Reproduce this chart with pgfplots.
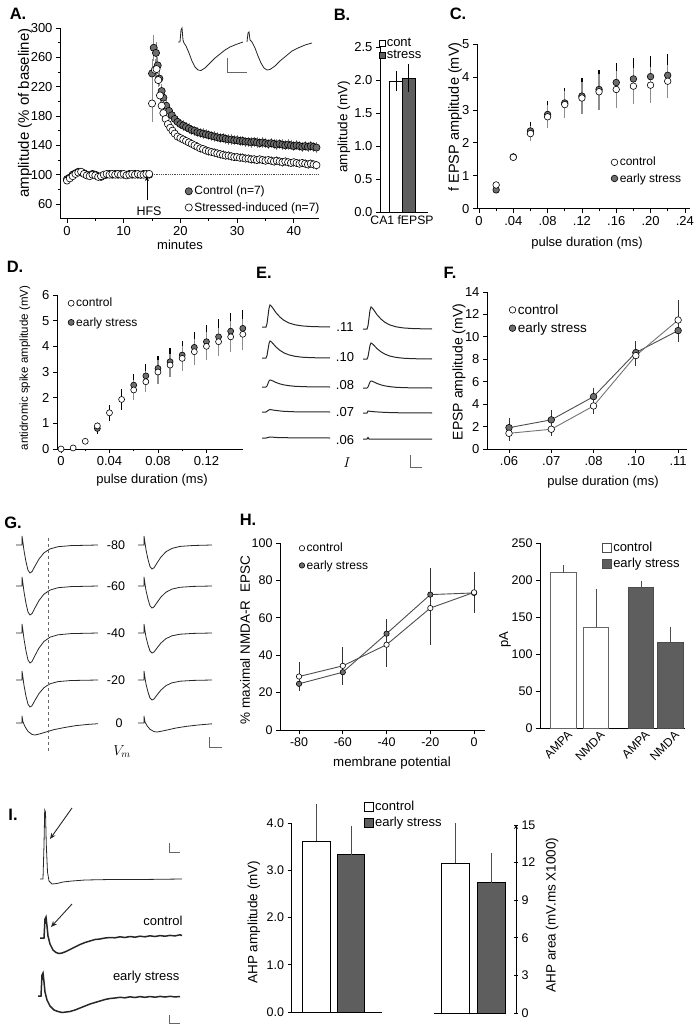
\documentclass[border=0pt]{standalone}
\usepackage{fontspec}
\setmainfont{Liberation Sans}
\usepackage{pgfplots}
\usepackage{pgfplotstable}
\pgfplotsset{compat=1.18}
\usetikzlibrary{arrows.meta}
\definecolor{fillgray}{HTML}{6E6E6E}
\definecolor{bargray}{HTML}{5E5E5E}
\definecolor{errgray}{HTML}{8C8C8C}
\definecolor{linegray}{HTML}{4D4D4D}
\pgfplotsset{
 panel/.style={scale only axis, anchor=south west, axis lines=left, axis line style={-, line width=0.8pt},
   tick align=outside, major tick length=4pt, minor tick length=2.5pt, tick style={line width=0.7pt, black},
   /pgf/number format/assume math mode=true,
   tick label style={font=\fontsize{13}{14}\selectfont},
   enlargelimits=false, clip=false, legend cell align=left,
   legend style={draw=none, fill=none, inner sep=0pt, row sep=2pt, font=\fontsize{12}{13}\selectfont},
   legend image code/.code={\draw[mark repeat=2,mark phase=2,##1] plot coordinates {(0pt,0pt) (4pt,0pt) (8pt,0pt)};}},
 omk/.style={mark=*, mark size=#1, mark options={fill=white, draw=black, line width=0.6pt, solid}},
 fmk/.style={mark=*, mark size=#1, mark options={fill=fillgray, draw=black, line width=0.6pt, solid}},
 ebars/.style={only marks, mark=none, forget plot, /pgfplots/error bars/y dir=both, /pgfplots/error bars/y explicit, /pgfplots/error bars/error mark=none, /pgfplots/error bars/error bar style={#1}},
 eplus/.style={/pgfplots/error bars/y dir=plus, /pgfplots/error bars/y explicit, /pgfplots/error bars/error mark=none, /pgfplots/error bars/error bar style={#1}},
 tr/.style={black!85, line width=0.8pt, mark=none, forget plot},
}
\pgfplotstableread{
x y e
0 94 3
0.5 96 3
1 100 3
1.5 102 3
2 104 3
2.5 103 3
3 102 3
3.5 100 3
4 99 3
4.5 101 3
5 100 3
5.5 98 3
6 97 3
6.5 99 3
7 100 3
7.5 101 3
8 100 3
8.5 101 3
9 100 3
9.5 101 3
10 100 3
10.5 100 3
11 101 3
11.5 100 3
12 101 3
12.5 100 3
13 100 3
13.5 101 3
14 100 3
14.5 100 3
15.0 238 20
15.3 273 18
15.7 266 15
16.0 249 12
16.3 231 10
16.7 214 9
17.0 205 8
17.5 194 8
18.0 187 7
18.5 181 7
19.0 176 7
19.5 172 7
20.0 169 7
20.5 167 7
21.0 165 7
21.5 163 7
22.0 161 7
22.5 160 7
23.0 158 7
23.5 157 7
24.0 156 7
24.5 155 7
25.0 154 7
25.5 153 7
26.0 152 7
26.5 151 7
27.0 150 7
27.5 150 7
28.0 149 7
28.5 148 7
29.0 148 7
29.5 147 7
30.0 147 7
30.5 146 7
31.0 146 7
31.5 145 7
32.0 145 7
32.5 144 7
33.0 145 7
33.5 144 7
34.0 143 7
34.5 144 7
35.0 143 7
35.5 142 7
36.0 143 7
36.5 142 7
37.0 141 7
37.5 142 7
38.0 141 7
38.5 140 7
39.0 141 7
39.5 140 7
40.0 139 7
40.5 140 7
41.0 139 7
41.5 138 7
42.0 139 7
42.5 138 7
43.0 139 7
43.5 138 7
44.0 137 7
}\Actrl
\pgfplotstableread{
x y e
0 92 3
0.5 95 3
1 98 3
1.5 101 3
2 103 3
2.5 104 3
3 101 3
3.5 99 3
4 98 3
4.5 100 3
5 99 3
5.5 97 3
6 98 3
6.5 100 3
7 101 3
7.5 100 3
8 101 3
8.5 100 3
9 101 3
9.5 100 3
10 101 3
10.5 99 3
11 100 3
11.5 101 3
12 100 3
12.5 101 3
13 100 3
13.5 100 3
14 101 3
14.5 101 3
15.0 197 25
15.5 243 15
15.8 244 12
16.1 229 10
16.4 208 9
16.7 194 8
17.0 184 7
17.4 176 6
17.8 169 6
18.2 164 6
18.6 160 6
19.0 156 6
19.5 152 6
20.0 150 6
20.5 148 6
21.0 146 6
21.5 144 6
22.0 142 6
22.5 140 6
23.0 138 6
23.5 136 6
24.0 135 6
24.5 133 6
25.0 132 6
25.5 131 6
26.0 130 6
26.5 129 6
27.0 128 6
27.5 127 6
28.0 126 6
28.5 126 6
29.0 125 6
29.5 124 6
30.0 124 6
30.5 123 6
31.0 123 6
31.5 122 6
32.0 122 6
32.5 121 6
33.0 121 6
33.5 120 6
34.0 121 6
34.5 120 6
35.0 119 6
35.5 120 6
36.0 119 6
36.5 118 6
37.0 119 6
37.5 118 6
38.0 117 6
38.5 118 6
39.0 117 6
39.5 116 6
40.0 117 6
40.5 116 6
41.0 115 6
41.5 116 6
42.0 115 6
42.5 114 6
43.0 115 6
43.5 114 6
44.0 113 6
}\Astr
\begin{document}
\begin{tikzpicture}[x=1pt,y=1pt]
\useasboundingbox (0pt,0pt) rectangle (699pt,1032pt);

% ---------------- A
\begin{axis}[panel, at={(60pt,813.3pt)}, width=259.3pt, height=190.7pt, xmin=-1.23, xmax=44.5, ymin=40, ymax=300,
  xtick={0,10,20,30,40}, ytick={60,100,140,180,220,260,300}, minor x tick num=1, minor y tick num=1,
  legend style={at={(0.482,0.182)}, anchor=north west}]
\addplot[densely dotted, black!70, line width=0.8pt, forget plot] coordinates {(15,100) (44.5,100)};
\addplot[ebars={errgray, line width=0.6pt}] table[x=x,y=y,y error=e] {\Actrl};
\addplot[ebars={errgray, line width=0.6pt}] table[x=x,y=y,y error=e] {\Astr};
\addplot[only marks, fmk=3.6pt, forget plot] table[x=x,y=y] {\Actrl};
\addplot[only marks, omk=3.6pt, forget plot] table[x=x,y=y] {\Astr};
\addplot[-{Stealth[length=5pt,width=4pt]}, line width=0.8pt, forget plot] coordinates {(14.1,65) (14.1,98)};
\addlegendimage{only marks, fmk=3.6pt}\addlegendentry{Control (n=7)}
\addlegendimage{only marks, omk=3.6pt}\addlegendentry{Stressed-induced (n=7)}
\end{axis}

% ---------------- B
\begin{axis}[panel, at={(380pt,820pt)}, width=48pt, height=165pt, xmin=0, xmax=48, ymin=0, ymax=2.5,
  xtick=\empty, ytick={0,0.5,1,1.5,2,2.5}, yticklabel style={/pgf/number format/.cd, fixed, fixed zerofill, precision=1},
  legend style={at={(-0.03,1.067)}, anchor=north west, row sep=-2pt, font=\fontsize{13}{13}\selectfont}]
\addplot[ybar, bar width=12.5pt, bar shift=0pt, fill=white, draw=black, line width=0.6pt, forget plot,
  /pgfplots/error bars/y dir=both, /pgfplots/error bars/y explicit, /pgfplots/error bars/error mark=none, /pgfplots/error bars/error bar style={black, line width=0.7pt}]
  coordinates {(16,1.98) +- (0,0.15)};
\addplot[ybar, bar width=13pt, bar shift=0pt, fill=bargray, draw=black, line width=0.6pt, forget plot,
  /pgfplots/error bars/y dir=both, /pgfplots/error bars/y explicit, /pgfplots/error bars/error mark=none, /pgfplots/error bars/error bar style={black, line width=0.7pt}]
  coordinates {(28.5,2.03) +- (0,0.21)};
\addlegendimage{only marks, mark=square, mark size=3pt, mark options={draw=black, fill=white}}\addlegendentry{cont}
\addlegendimage{only marks, mark=square*, mark size=3pt, mark options={draw=black, fill=bargray}}\addlegendentry{stress}
\end{axis}

% ---------------- C
\begin{axis}[panel, at={(477pt,823.3pt)}, width=213pt, height=164.7pt, xmin=-0.0023, xmax=0.246, ymin=0, ymax=5,
  xtick={0,0.04,0.08,0.12,0.16,0.2,0.24}, xticklabels={0,.04,.08,.12,.16,.20,.24}, minor x tick num=1, ytick={0,1,2,3,4,5},
  legend style={at={(0.629,0.326)}, anchor=north west, row sep=2pt}]
\addplot[ebars={black, line width=1.2pt}] coordinates {(0.02,0.57) +- (0,0.05) (0.04,1.57) +- (0,0.12) (0.06,2.36) +- (0,0.28) (0.08,2.86) +- (0,0.4) (0.10,3.21) +- (0,0.45) (0.12,3.42) +- (0,0.55) (0.14,3.62) +- (0,0.6) (0.16,3.83) +- (0,0.6) (0.18,3.94) +- (0,0.62) (0.20,4.01) +- (0,0.62) (0.22,4.05) +- (0,0.65)};
\addplot[ebars={errgray, line width=1.2pt}] coordinates {(0.02,0.72) +- (0,0.05) (0.04,1.56) +- (0,0.1) (0.06,2.28) +- (0,0.22) (0.08,2.79) +- (0,0.35) (0.10,3.16) +- (0,0.42) (0.12,3.36) +- (0,0.5) (0.14,3.55) +- (0,0.55) (0.16,3.62) +- (0,0.55) (0.18,3.72) +- (0,0.55) (0.20,3.75) +- (0,0.55) (0.22,3.87) +- (0,0.5)};
\addplot[only marks, fmk=3.3pt, forget plot] coordinates {(0.02,0.57) (0.04,1.57) (0.06,2.36) (0.08,2.86) (0.10,3.21) (0.12,3.42) (0.14,3.62) (0.16,3.83) (0.18,3.94) (0.20,4.01) (0.22,4.05)};
\addplot[only marks, omk=3.3pt, forget plot] coordinates {(0.02,0.72) (0.04,1.56) (0.06,2.28) (0.08,2.79) (0.10,3.16) (0.12,3.36) (0.14,3.55) (0.16,3.62) (0.18,3.72) (0.20,3.75) (0.22,3.87)};
\addlegendimage{only marks, omk=3.3pt}\addlegendentry{control}
\addlegendimage{only marks, fmk=3.3pt}\addlegendentry{early stress}
\end{axis}

% ---------------- D
\begin{axis}[panel, at={(57pt,583pt)}, width=185.8pt, height=154pt, xmin=-0.0033, xmax=0.15, ymin=0, ymax=6,
  xtick={0,0.04,0.08,0.12}, xticklabels={0,0.04,0.08,0.12}, minor x tick num=1, ytick={0,1,2,3,4,5,6},
  legend style={at={(0.059,0.994)}, anchor=north west, row sep=5pt}]
\addplot[ebars={black, line width=1.2pt}] coordinates {(0.03,0.8) +- (0,0.2) (0.04,1.41) +- (0,0.3) (0.05,1.93) +- (0,0.4) (0.06,2.49) +- (0,0.45) (0.07,2.85) +- (0,0.45) (0.08,3.14) +- (0,0.5) (0.09,3.4) +- (0,0.55) (0.10,3.66) +- (0,0.55) (0.11,3.96) +- (0,0.6) (0.12,4.18) +- (0,0.65) (0.13,4.37) +- (0,0.7) (0.14,4.59) +- (0,0.7) (0.15,4.7) +- (0,0.7)};
\addplot[ebars={errgray, line width=1.2pt}] coordinates {(0.02,0.3) +- (0,0.05) (0.03,0.9) +- (0,0.15) (0.06,2.3) +- (0,0.4) (0.07,2.62) +- (0,0.4) (0.08,3.0) +- (0,0.45) (0.09,3.27) +- (0,0.45) (0.10,3.53) +- (0,0.5) (0.11,3.79) +- (0,0.5) (0.12,4.0) +- (0,0.55) (0.13,4.18) +- (0,0.55) (0.14,4.37) +- (0,0.6) (0.15,4.47) +- (0,0.6)};
\addplot[only marks, fmk=3pt, forget plot] coordinates {(0.03,0.8) (0.06,2.49) (0.07,2.85) (0.08,3.14) (0.09,3.4) (0.10,3.66) (0.11,3.96) (0.12,4.18) (0.13,4.37) (0.14,4.59) (0.15,4.7)};
\addplot[only marks, omk=3pt, forget plot] coordinates {(0,0) (0.01,0.04) (0.02,0.3) (0.03,0.9) (0.04,1.41) (0.05,1.93) (0.06,2.3) (0.07,2.62) (0.08,3.0) (0.09,3.27) (0.10,3.53) (0.11,3.79) (0.12,4.0) (0.13,4.18) (0.14,4.37) (0.15,4.47)};
\addlegendimage{only marks, omk=3pt}\addlegendentry{control}
\addlegendimage{only marks, fmk=3pt}\addlegendentry{early stress}
\end{axis}

% ---------------- F
\begin{axis}[panel, at={(487pt,583pt)}, width=200pt, height=157pt, xmin=-0.52, xmax=4.21, ymin=0, ymax=14,
  xtick={0,1,2,3,4}, xticklabels={.06,.07,.08,.10,.11}, ytick={0,2,4,6,8,10,12,14},
  legend style={at={(0.11,0.936)}, anchor=north west, row sep=3pt, font=\fontsize{13.5}{14}\selectfont}]
\addplot[linegray, line width=0.9pt, fmk=3.3pt, forget plot, /pgfplots/error bars/y dir=both, /pgfplots/error bars/y explicit, /pgfplots/error bars/error mark=none, /pgfplots/error bars/error bar style={black!80, line width=0.7pt}]
  coordinates {(0,1.9) +- (0,0.9) (1,2.6) +- (0,0.9) (2,4.67) +- (0,0.8) (3,8.6) +- (0,1.0) (4,10.56) +- (0,1.0)};
\addplot[black!55, line width=0.9pt, omk=3.3pt, forget plot, /pgfplots/error bars/y dir=both, /pgfplots/error bars/y explicit, /pgfplots/error bars/error mark=none, /pgfplots/error bars/error bar style={black!80, line width=0.7pt}]
  coordinates {(0,1.4) +- (0,0.7) (1,1.76) +- (0,0.6) (2,3.84) +- (0,0.7) (3,8.33) +- (0,0.9) (4,11.5) +- (0,1.8)};
\addlegendimage{only marks, omk=3.3pt}\addlegendentry{control}
\addlegendimage{only marks, fmk=3.3pt}\addlegendentry{early stress}
\end{axis}

% ---------------- H left
\begin{axis}[panel, at={(280pt,302pt)}, width=205pt, height=187pt, xmin=-88.7, xmax=5, ymin=0, ymax=100,
  xtick={-80,-60,-40,-20,0}, xticklabels={-80,-60,-40,-20,0}, ytick={0,20,40,60,80,100},
  tick label style={font=\fontsize{12.5}{13}\selectfont},
  legend style={at={(0.093,1.011)}, anchor=north west, row sep=3pt}]
\addplot[linegray, line width=0.9pt, fmk=2.7pt, forget plot, /pgfplots/error bars/y dir=both, /pgfplots/error bars/y explicit, /pgfplots/error bars/error mark=none, /pgfplots/error bars/error bar style={black!80, line width=0.7pt}]
  coordinates {(-80,24.7) +- (0,3) (-60,30.9) +- (0,4) (-40,51.5) +- (0,8) (-20,72.4) +- (0,14) (0,73.3) +- (0,3)};
\addplot[linegray, line width=0.9pt, omk=2.7pt, forget plot, /pgfplots/error bars/y dir=both, /pgfplots/error bars/y explicit, /pgfplots/error bars/error mark=none, /pgfplots/error bars/error bar style={black!80, line width=0.7pt}]
  coordinates {(-80,28.6) +- (0,8) (-60,34.3) +- (0,10) (-40,45.6) +- (0,12) (-20,65.2) +- (0,19.6) (0,73.6) +- (0,11)};
\addlegendimage{only marks, omk=2.7pt}\addlegendentry{control}
\addlegendimage{only marks, fmk=2.7pt}\addlegendentry{early stress}
\end{axis}

% ---------------- H right
\begin{axis}[panel, at={(540pt,304pt)}, width=145pt, height=185pt, xmin=0, xmax=145, ymin=0, ymax=250,
  xtick=\empty, ytick={0,50,100,150,200,250}, tick label style={font=\fontsize{12.5}{13}\selectfont},
  legend style={at={(0.428,1.016)}, anchor=north west, row sep=1pt, font=\fontsize{13}{13}\selectfont}]
\addplot[ybar, bar width=25.5pt, bar shift=0pt, fill=white, draw=black!60, line width=0.8pt, forget plot, eplus={black!70, line width=0.7pt}]
  coordinates {(23.5,210) +- (0,10) (56,136) +- (0,52)};
\addplot[ybar, bar width=25.5pt, bar shift=0pt, fill=bargray, draw=black!70, line width=0.8pt, forget plot, eplus={black!70, line width=0.7pt}]
  coordinates {(101,190) +- (0,9) (130.5,116) +- (0,21)};
\node[rotate=45, anchor=north east, font=\fontsize{12}{12}\selectfont, inner sep=1.5pt] at (axis cs:27,0) {AMPA};
\node[rotate=45, anchor=north east, font=\fontsize{12}{12}\selectfont, inner sep=1.5pt] at (axis cs:59.5,0) {NMDA};
\node[rotate=45, anchor=north east, font=\fontsize{12}{12}\selectfont, inner sep=1.5pt] at (axis cs:104.5,0) {AMPA};
\node[rotate=45, anchor=north east, font=\fontsize{12}{12}\selectfont, inner sep=1.5pt] at (axis cs:134,0) {NMDA};
\addlegendimage{only marks, mark=square, mark size=4.5pt, mark options={draw=black!70, fill=white}}\addlegendentry{control}
\addlegendimage{only marks, mark=square*, mark size=4.5pt, mark options={draw=black!70, fill=bargray}}\addlegendentry{early stress}
\end{axis}

% ---------------- I bars 1
\begin{axis}[panel, at={(291.5pt,20pt)}, width=90.5pt, height=189pt, xmin=0, xmax=90.5, ymin=0, ymax=4,
  xtick=\empty, ytick={0,1,2,3,4}, yticklabel style={/pgf/number format/.cd, fixed, fixed zerofill, precision=1},
  tick label style={font=\fontsize{12.5}{13}\selectfont},
  legend style={at={(0.801,1.127)}, anchor=north west, row sep=1pt, font=\fontsize{13}{13}\selectfont}]
\addplot[ybar, bar width=27.5pt, bar shift=0pt, fill=white, draw=black, line width=0.8pt, forget plot, eplus={black!70, line width=0.7pt}]
  coordinates {(24.8,3.62) +- (0,0.78)};
\addplot[ybar, bar width=27.5pt, bar shift=0pt, fill=bargray, draw=black, line width=0.8pt, forget plot, eplus={black!70, line width=0.7pt}]
  coordinates {(59.5,3.33) +- (0,0.6)};
\addlegendimage{only marks, mark=square, mark size=4.5pt, mark options={draw=black, fill=white}}\addlegendentry{control}
\addlegendimage{only marks, mark=square*, mark size=4.5pt, mark options={draw=black, fill=bargray}}\addlegendentry{early stress}
\end{axis}

% ---------------- I bars 2
\begin{axis}[panel, at={(434pt,19pt)}, width=82pt, height=188pt, xmin=0, xmax=82, ymin=0, ymax=15,
  axis y line=right, axis x line=none, xtick=\empty, ytick={0,3,6,9,12,15},
  tick label style={font=\fontsize{12.5}{13}\selectfont}]
\addplot[black, line width=0.8pt, forget plot] coordinates {(0,0) (71,0)};
\addplot[ybar, bar width=28pt, bar shift=0pt, fill=white, draw=black, line width=0.8pt, forget plot, eplus={black!70, line width=0.7pt}]
  coordinates {(21.5,11.95) +- (0,3.2)};
\addplot[ybar, bar width=28pt, bar shift=0pt, fill=bargray, draw=black, line width=0.8pt, forget plot, eplus={black!70, line width=0.7pt}]
  coordinates {(57,10.4) +- (0,2.4)};
\end{axis}

% ---------------- overlay: traces (pixel coordinates)
\begin{axis}[at={(0pt,0pt)}, anchor=south west, scale only axis, width=699pt, height=1032pt,
  xmin=0, xmax=699, ymin=0, ymax=1032, y dir=reverse, hide axis, clip=false]
% A inset
\addplot[tr] coordinates {(178,42) (180,42) (181,30) (182,28) (183,40) (184,43) (186,46) (189,53) (192,61) (195,67) (198,70) (201,70.5) (205,68) (210,63) (215,58) (220,54) (225,50) (230,47) (236,44.5) (243,42)};
\addplot[tr] coordinates {(247,42) (248,33) (249,32) (250,40) (252,42) (255,48) (258,56) (261,63) (264,68) (267,70) (270,69.5) (275,66) (280,61) (286,56) (292,51) (298,48) (305,45) (312,43)};
\addplot[tr, black!60] coordinates {(227,58) (227,72) (247,72)};
% E traces
\addplot[tr, line width=1pt] coordinates {(262,327) (266,327) (267,323.7) (268,316) (269,308.3) (270,305) (271,305.7) (273,308.3) (276,312.7) (280,317.1) (284,320.4) (289,323) (295,324.8) (302,325.9) (312,326.6) (330,327)};
\addplot[tr, line width=1pt] coordinates {(363,329) (367,329) (368,325.7) (369,318) (370,310.3) (371,307) (372,307.7) (374,310.3) (377,314.7) (381,319.1) (385,322.4) (390,325) (396,326.8) (403,327.9) (413,328.6) (432,329)};
\addplot[tr, line width=1pt] coordinates {(262,358) (266,358) (267,355.5) (268,349.5) (269,343.6) (270,341) (271,341.5) (273,343.6) (276,347) (280,350.4) (284,352.9) (289,354.9) (295,356.3) (302,357.2) (312,357.7) (330,358)};
\addplot[tr, line width=1pt] coordinates {(363,359) (367,359) (368,356.6) (369,351) (370,345.4) (371,343) (372,343.5) (374,345.4) (377,348.6) (381,351.8) (385,354.2) (390,356.1) (396,357.4) (403,358.2) (413,358.7) (432,359)};
\addplot[tr, line width=1pt] coordinates {(262,387) (266,387) (267,386) (268,383.5) (269,381) (270,380) (271,380.2) (273,381) (276,382.5) (280,383.9) (284,384.9) (289,385.7) (295,386.3) (302,386.6) (312,386.9) (330,387)};
\addplot[tr, line width=1pt] coordinates {(363,388) (367,388) (368,387) (369,384.5) (370,382) (371,381) (372,381.2) (374,382) (377,383.5) (381,384.9) (385,385.9) (390,386.7) (396,387.3) (403,387.6) (413,387.9) (432,388)};
\addplot[tr, line width=1pt] coordinates {(262,412) (266,412) (268,410.5) (270,409.5) (274,410.2) (282,411.2) (295,411.8) (330,412)};
\addplot[tr, line width=1pt] coordinates {(363,413) (367,413) (368,411) (370,411.3) (375,411.8) (385,412.4) (400,412.8) (432,413)};
\addplot[tr, line width=1pt] coordinates {(262,438) (266,438) (270,437) (280,437.7) (330,438)};
\addplot[tr, line width=1pt] coordinates {(363,439) (367,439) (368,437.5) (369,439) (432,439)};
\addplot[tr, black!60] coordinates {(410,455) (410,467) (422,467)};
% G traces
\addplot[tr] coordinates {(16,545) (22,545) (22,536) (23,543) (24,550.6) (26,561.8) (28,570.2) (30,573) (32,571.6) (35,566) (39,559) (44,552.8) (50,548.9) (58,546.7) (71,545.6) (98,545)};
\addplot[tr] coordinates {(16,586) (22,586) (22,577) (23,584) (24,591.8) (26,603.4) (28,612.1) (30,615) (32,613.6) (35,607.8) (39,600.5) (44,594.1) (50,590.1) (58,587.7) (71,586.6) (98,586)};
\addplot[tr] coordinates {(16,633) (22,633) (22,624) (23,631) (24,639) (26,651) (28,660) (30,663) (32,661.5) (35,655.5) (39,648) (44,641.4) (50,637.2) (58,634.8) (71,633.6) (98,633)};
\addplot[tr] coordinates {(16,680) (22,680) (22,671) (23,678) (24,685.4) (26,696.2) (28,704.3) (30,707) (32,705.7) (35,700.3) (39,693.5) (44,687.6) (50,683.8) (58,681.6) (71,680.5) (98,680)};
\addplot[tr] coordinates {(16,723) (22,723) (22,716) (23,722) (25,726.6) (28,731.4) (32,734.4) (35,735) (40,733.8) (46,732) (54,729.6) (64,727.6) (76,725.6) (88,724.4) (98,723.7)};
\addplot[tr] coordinates {(138,545) (144,545) (144,536) (145,543) (146,549.8) (148,559.4) (150,566.6) (152,569) (154,567.8) (157,563) (161,557) (166,551.7) (172,548.4) (180,546.4) (193,545.5) (212,545)};
\addplot[tr] coordinates {(138,586) (144,586) (144,577) (145,584) (146,590.4) (148,599.2) (150,605.8) (152,608) (154,606.9) (157,602.5) (161,597) (166,592.2) (172,589.1) (180,587.3) (193,586.4) (212,586)};
\addplot[tr] coordinates {(138,633) (144,633) (144,624) (145,631) (146,637) (148,645) (150,651) (152,653) (154,652) (157,648) (161,643) (166,638.6) (172,635.8) (180,634.2) (193,633.4) (212,633)};
\addplot[tr] coordinates {(138,680) (144,680) (144,671) (145,678) (146,684) (148,692) (150,698) (152,700) (154,699) (157,695) (161,690) (166,685.6) (172,682.8) (180,681.2) (193,680.4) (212,680)};
\addplot[tr] coordinates {(138,723) (144,723) (144,716) (145,722) (147,725.7) (150,729.3) (154,731.6) (157,732) (162,731.1) (168,729.8) (176,728) (186,726.4) (198,725) (212,723.8)};
\addplot[tr, black!60, dashed, line width=0.7pt] coordinates {(48,538) (48,752)};
\addplot[tr, black!60] coordinates {(209,737) (209,747) (222,747)};
% I traces
\addplot[tr] coordinates {(40,879) (43,879) (44,845) (44.7,810) (45.5,812) (46.3,845) (47.5,872) (49,881) (52,884) (57,883.5) (63,882) (72,881) (85,880) (110,879.5) (140,879.5) (182,879)};
\addplot[tr, line width=1.5pt] coordinates {(40,938) (44,938) (45,919) (46,917) (47,926) (48,936) (50,944) (53,950) (56,952.5) (59,953.5) (62,953) (66,951.5) (70,949.5) (75,947) (80,944.5) (85,942.5) (90,941) (95,939.5) (100,939) (105,938) (110,937.5) (115,937.8) (120,936.8) (125,937.5) (130,936.5) (135,937.2) (140,936.2) (145,936.8) (150,935.8) (155,936.5) (160,935.6) (165,936.2) (170,935.4) (175,935.9) (180,934.8) (182,935.5)};
\addplot[tr, line width=1.5pt] coordinates {(38,996) (41,996) (42,975) (43,973) (44,982) (45,992) (47,1000) (50,1006) (54,1010) (58,1011.5) (62,1012.5) (66,1012) (70,1011.5) (75,1010) (80,1008) (85,1006) (90,1004) (95,1002.5) (100,1001) (105,999.5) (110,998.5) (115,998) (120,997.3) (125,997.8) (130,996.8) (135,997.5) (140,996.6) (145,997.3) (150,996.5) (155,997.2) (160,996.4) (165,997) (170,996.3) (175,996.9) (180,996.5)};
\addplot[tr, black!60] coordinates {(169,843) (169,852) (180,852)};
\addplot[tr, black!60] coordinates {(169,1015) (169,1023) (180,1023)};
\addplot[tr, -{Stealth[length=6pt,width=5pt]}, line width=0.9pt] coordinates {(72,808) (50,839)};
\addplot[tr, -{Stealth[length=6pt,width=5pt]}, line width=0.9pt] coordinates {(72,904) (51,927)};
\end{axis}

% ---------------- text (pixel coordinates, y downward)
\begin{scope}[shift={(0,1032)}, y=-1pt]
\tikzset{lett/.style={font=\bfseries\fontsize{16.5}{17}\selectfont}}
\node[lett] at (18,14) {A.};
\node[lett] at (342,15) {B.};
\node[lett] at (458,14) {C.};
\node[lett] at (15,267) {D.};
\node[lett] at (264,273) {E.};
\node[lett] at (450,273) {F.};
\node[lett] at (13,523) {G.};
\node[lett] at (248,520) {H.};
\node[lett] at (13,815) {I.};
% A
\node[rotate=90, font=\fontsize{15}{16}\selectfont] at (25,113) {amplitude (\% of baseline)};
\node[font=\fontsize{13}{14}\selectfont] at (180,245) {minutes};
\node[font=\fontsize{12.5}{13}\selectfont] at (149,211) {HFS};
% B
\node[rotate=90, font=\fontsize{13.5}{14}\selectfont] at (344,127) {amplitude (mV)};
\node[font=\fontsize{12.2}{13}\selectfont] at (402,220) {CA1 fEPSP};
% C
\node[rotate=90, font=\fontsize{14.5}{15}\selectfont] at (455,117) {f EPSP amplitude (mV)};
\node[font=\fontsize{13}{14}\selectfont] at (587,243) {pulse duration (ms)};
% D
\node[rotate=90, font=\fontsize{11.5}{12}\selectfont] at (25,368) {antidromic spike amplitude (mV)};
\node[font=\fontsize{13}{14}\selectfont] at (152,480) {pulse duration (ms)};
% E
\node[font=\fontsize{13}{14}\selectfont] at (345,327) {.11};
\node[font=\fontsize{13}{14}\selectfont] at (345,357) {.10};
\node[font=\fontsize{13}{14}\selectfont] at (345,385) {.08};
\node[font=\fontsize{13}{14}\selectfont] at (345,412) {.07};
\node[font=\fontsize{13}{14}\selectfont] at (345,440) {.06};
\node[font=\fontsize{14}{14}\selectfont] at (347,463) {$I$};
% F
\node[rotate=90, font=\fontsize{14}{15}\selectfont] at (459,372) {EPSP amplitude (mV)};
\node[font=\fontsize{13}{14}\selectfont] at (603,482) {pulse duration (ms)};
% G
\node[font=\fontsize{12.5}{13}\selectfont] at (116,545) {-80};
\node[font=\fontsize{12.5}{13}\selectfont] at (116,586) {-60};
\node[font=\fontsize{12.5}{13}\selectfont] at (116,633) {-40};
\node[font=\fontsize{12.5}{13}\selectfont] at (116,680) {-20};
\node[font=\fontsize{12.5}{13}\selectfont] at (119,723) {0};
\node[font=\fontsize{14}{14}\selectfont] at (122,752) {$V_m$};
% H
\node[rotate=90, font=\fontsize{13.5}{14}\selectfont] at (245,640) {\% maximal NMDA-R\ \ EPSC};
\node[font=\fontsize{13.3}{14}\selectfont] at (392,763) {membrane potential};
\node[rotate=90, font=\fontsize{13}{14}\selectfont] at (505,640) {pA};
% I
\node[anchor=east, font=\fontsize{13}{14}\selectfont] at (186,921) {control};
\node[anchor=east, font=\fontsize{13}{14}\selectfont] at (183,977) {early stress};
\node[rotate=90, font=\fontsize{13.5}{14}\selectfont] at (254,922) {AHP amplitude (mV)};
\node[rotate=90, font=\fontsize{13.5}{14}\selectfont] at (552,915) {AHP area (mV.ms X1000)};
\end{scope}
\end{tikzpicture}
\end{document}
